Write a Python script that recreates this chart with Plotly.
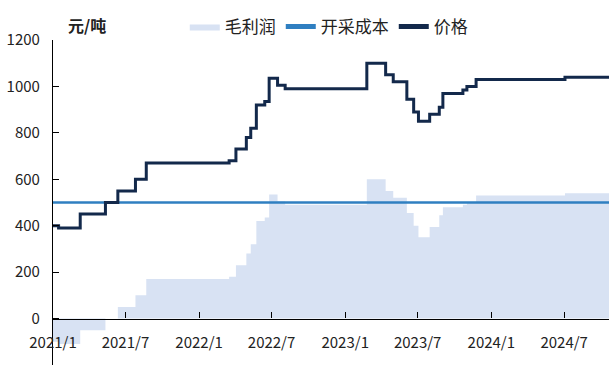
import plotly.graph_objects as go

# Step change points (date of change) for price and gross profit, 元/吨
change_dates = [
    "2021-01-01", "2021-01-15", "2021-03-10", "2021-05-12", "2021-06-12",
    "2021-07-26", "2021-08-22", "2022-03-17", "2022-04-03", "2022-04-29",
    "2022-05-10", "2022-05-24", "2022-06-14", "2022-06-25", "2022-07-16",
    "2022-08-04", "2023-02-24", "2023-04-12", "2023-05-01", "2023-06-04",
    "2023-06-21", "2023-07-03", "2023-07-31", "2023-08-24", "2023-09-02",
    "2023-10-22", "2023-11-01", "2023-11-24", "2024-07-03", "2024-10-21",
]
price = [
    400, 390, 450, 500, 550,
    600, 670, 680, 730, 780,
    820, 920, 935, 1035, 1005,
    990, 1100, 1050, 1020, 945,
    890, 850, 880, 910, 970,
    985, 1000, 1030, 1040, 1040,
]
profit = [
    -100, -110, -50, 0, 50,
    100, 170, 180, 230, 280,
    320, 420, 435, 535, 505,
    490, 600, 550, 520, 455,
    400, 350, 395, 445, 480,
    490, 498, 530, 540, 540,
]
cost_dates = ["2021-01-01", "2024-10-21"]
cost = [500, 500]

tick_dates = ["2021-01-01", "2021-07-01", "2022-01-01", "2022-07-01",
              "2023-01-01", "2023-07-01", "2024-01-01", "2024-07-01"]
tick_text = ["2021/1", "2021/7", "2022/1", "2022/7",
             "2023/1", "2023/7", "2024/1", "2024/7"]
y_ticks = [-200, 0, 200, 400, 600, 800, 1000, 1200]

FONT = "Noto Sans CJK SC"

fig = go.Figure()
fig.add_trace(go.Scatter(
    x=change_dates, y=profit, name="毛利润", mode="lines",
    line=dict(shape="hv", width=0, color="#d8e2f3"),
    fill="tozeroy", fillcolor="#d8e2f3",
))
fig.add_trace(go.Scatter(
    x=cost_dates, y=cost, name="开采成本", mode="lines",
    line=dict(color="#2f7fc1", width=2.5),
))
fig.add_trace(go.Scatter(
    x=change_dates, y=price, name="价格", mode="lines",
    line=dict(shape="hv", color="#13294b", width=3),
))

fig.update_layout(
    width=609, height=372,
    margin=dict(l=53, r=0, t=40, b=7),
    paper_bgcolor="white", plot_bgcolor="white",
    font=dict(family=FONT, size=15, color="#222222"),
    showlegend=True,
    legend=dict(
        orientation="h", x=0.237, y=1.04, xanchor="left", yanchor="middle",
        font=dict(size=17, color="#222222"), bgcolor="rgba(0,0,0,0)",
        itemsizing="constant", tracegroupgap=0,
    ),
    xaxis=dict(
        type="date", range=["2021-01-01", "2024-10-21"],
        tickvals=tick_dates, ticktext=tick_text,
        anchor="free", position=200 / 1400,
        showline=True, linecolor="black", linewidth=1.2,
        ticks="inside", ticklen=6, tickcolor="black",
        showgrid=False, zeroline=False,
        ticklabelstandoff=10,
        tickfont=dict(size=15, color="#222222"),
    ),
    yaxis=dict(
        range=[-200, 1200], tickvals=y_ticks,
        showline=True, linecolor="black", linewidth=1.2,
        ticks="inside", ticklen=6, tickcolor="black",
        showgrid=False, zeroline=False,
        ticklabelstandoff=9,
        tickfont=dict(size=15, color="#222222"),
    ),
    annotations=[dict(
        text="<b>元/吨</b>", xref="paper", yref="paper",
        x=0.023, y=1.046, xanchor="left", yanchor="middle",
        showarrow=False, font=dict(size=16, color="#222222"),
    )],
)

fig.write_html("out.html")
